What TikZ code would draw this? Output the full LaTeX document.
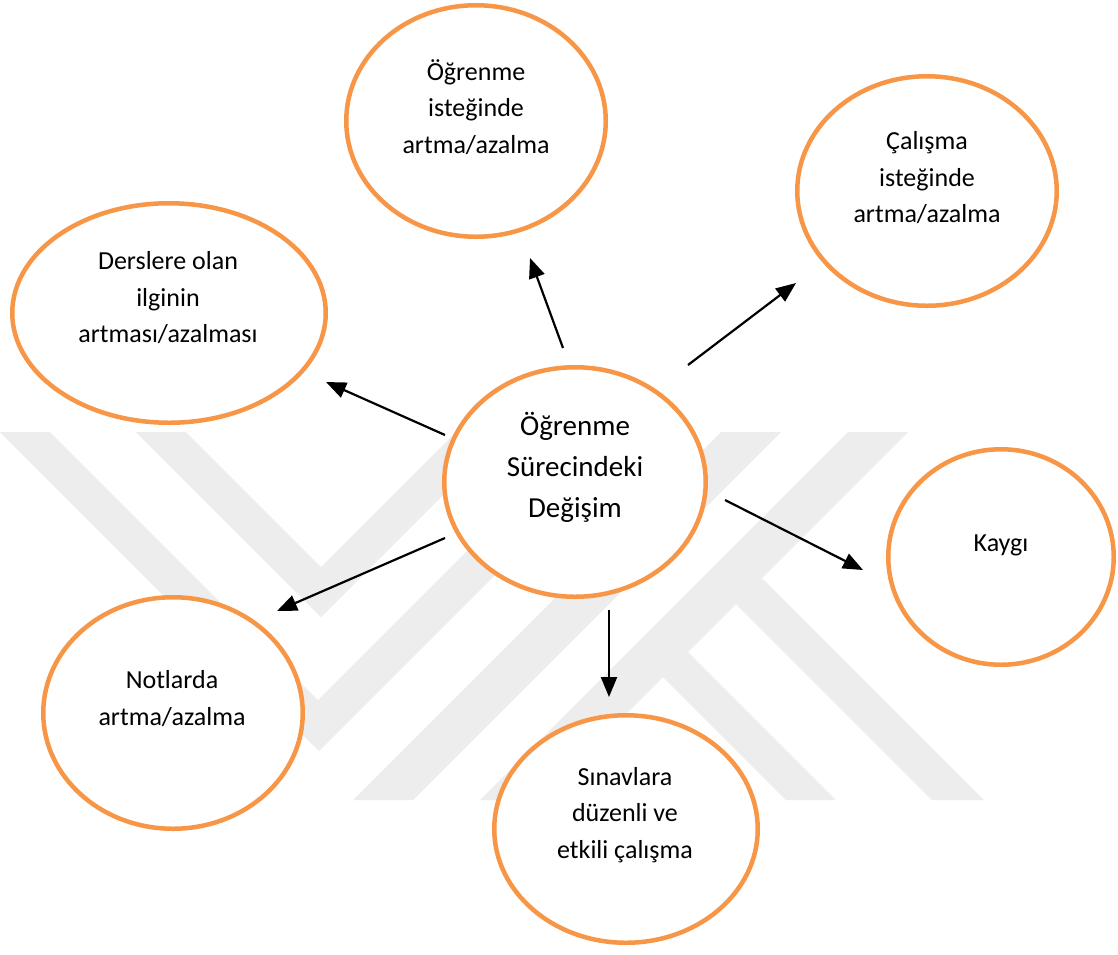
\documentclass[tikz,border=0pt]{standalone}
\usepackage{fontspec}
\setmainfont{Carlito}
\usetikzlibrary{shapes.geometric,arrows.meta}
\definecolor{orng}{HTML}{F79646}
\definecolor{wm}{gray}{0.93}
\begin{document}
\begin{tikzpicture}[x=1pt,y=-1pt,
  ell/.style={draw=orng, line width=4.5pt, fill=white, ellipse, inner sep=0pt, outer sep=0pt},
  lbl/.style={align=center, font=\fontsize{26}{36.5}\selectfont, inner sep=0pt},
  big/.style={align=center, font=\fontsize{29}{41}\selectfont, inner sep=0pt},
  arr/.style={line width=2.2pt, -{Triangle[length=20pt,width=16pt]}},
  wmk/.style={fill=wm, draw=none}]
\useasboundingbox (0,0) rectangle (1118,954);
\fill[white] (0,0) rectangle (1118,954);
% watermark
\fill[wmk] (0,432) -- (319,751) -- (638,432) -- (586,432) -- (318,700) -- (50,432) -- cycle;
\fill[wmk] (136,432) -- (321,617) -- (506,432) -- (456,432) -- (321,567) -- (186,432) -- cycle;
\fill[wmk] (721,432) -- (781,432) -- (413,800) -- (353,800) -- cycle;
\fill[wmk] (848,432) -- (908,432) -- (540,800) -- (480,800) -- cycle;
\fill[wmk] (762,578) -- (984,800) -- (932,800) -- (736,604) -- cycle;
\fill[wmk] (688,652) -- (836,800) -- (786,800) -- (663,677) -- cycle;
% ellipses
\node[ell, minimum width=259.5pt, minimum height=231.5pt] (eTop) at (476,121) {};
\node[ell, minimum width=259.5pt, minimum height=229.5pt] (eCal) at (927,191) {};
\node[ell, minimum width=313.5pt, minimum height=219.5pt] (eDer) at (169,313) {};
\node[ell, minimum width=261.5pt, minimum height=229.5pt] (eCen) at (575,482) {};
\node[ell, minimum width=225.5pt, minimum height=215.5pt] (eKay) at (1001,557) {};
\node[ell, minimum width=259.5pt, minimum height=231.5pt] (eNot) at (173,713) {};
\node[ell, minimum width=263.5pt, minimum height=227.5pt] (eSin) at (626,829) {};
% labels
\node[lbl] (tTop) at (476,107) {Öğrenme\\isteğinde\\artma/azalma};
\node[lbl] (tCal) at (927,178) {Çalışma\\isteğinde\\artma/azalma};
\node[lbl] (tDer) at (168,298) {Derslere olan\\ilginin\\artması/azalması};
\node[big] (tCen) at (575,467) {Öğrenme\\Sürecindeki\\Değişim};
\node[lbl] (tKay) at (1001,545) {Kaygı};
\node[lbl] (tNot) at (172,698.5) {Notlarda\\artma/azalma};
\node[lbl] (tSin) at (625,815) {Sınavlara\\düzenli ve\\etkili çalışma};
% connector end points
\coordinate (sTop) at (563,348); \coordinate (hTop) at (530,258);
\coordinate (sCal) at (688,365); \coordinate (hCal) at (796,283);
\coordinate (sDer) at (445,435); \coordinate (hDer) at (326,382);
\coordinate (sNot) at (445,538); \coordinate (hNot) at (277,611);
\coordinate (sKay) at (725,500); \coordinate (hKay) at (863,570);
\coordinate (sSin) at (609,610); \coordinate (hSin) at (609,697);
\draw[arr] (sTop) -- (hTop);
\draw[arr] (sCal) -- (hCal);
\draw[arr] (sDer) -- (hDer);
\draw[arr] (sNot) -- (hNot);
\draw[arr] (sKay) -- (hKay);
\draw[arr] (sSin) -- (hSin);
\end{tikzpicture}
\end{document}
